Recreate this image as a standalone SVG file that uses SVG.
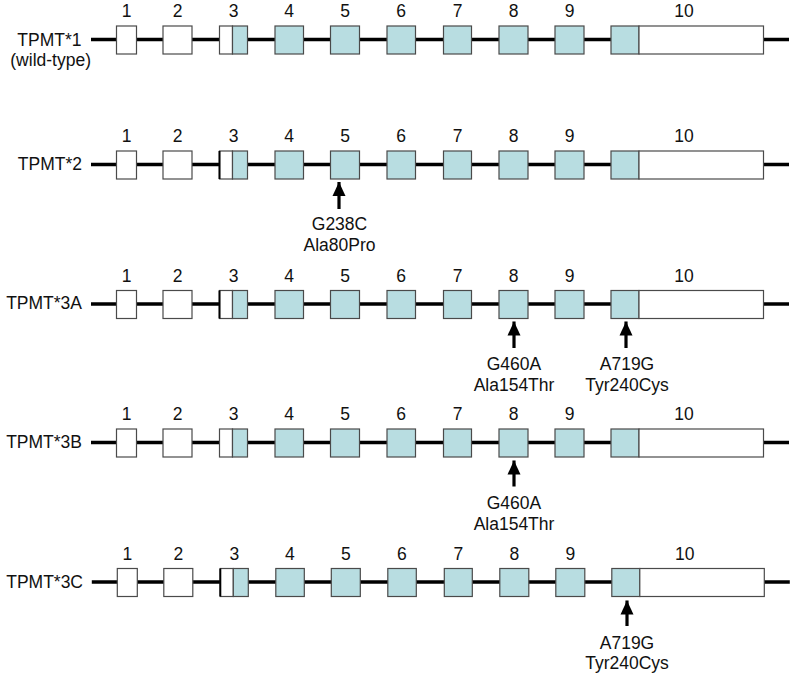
<svg xmlns="http://www.w3.org/2000/svg" xmlns:xlink="http://www.w3.org/1999/xlink" width="795" height="677" viewBox="0 0 795 677">
<style>
  text { font-family: "Liberation Sans", Arial, sans-serif; fill: #111; }
  .lbl { font-size: 17.5px; text-anchor: end; }
  .num { font-size: 17.5px; text-anchor: middle; }
  .mut { font-size: 17.5px; text-anchor: middle; }
  .intron { stroke: #000; stroke-width: 3.5; fill: none; }
  .w { fill: #fff; stroke: #4a4a4a; stroke-width: 1.2; }
  .t { fill: #b8dde1; stroke: #4a4a4a; stroke-width: 1.2; }
  .edge { stroke: #000; stroke-width: 2; }
  .shaft { stroke: #000; stroke-width: 3.2; fill: none; }
</style>
<defs>
  <marker id="ah" markerUnits="userSpaceOnUse" markerWidth="16" markerHeight="14" viewBox="0 0 16 14" refX="15" refY="7" orient="auto">
    <path d="M15,7 L1,0.5 L1,13.5 Z" fill="#000"/>
  </marker>
  <g id="gene">
    <line class="intron" x1="91" y1="13.5" x2="789" y2="13.5"/>
    <rect class="w" x="116.5" y="0" width="20" height="28"/>
    <rect class="w" x="163" y="0" width="29" height="28"/>
    <rect class="w" x="219.5" y="0" width="13" height="28"/>
    <rect class="t" x="232.5" y="0" width="15" height="28"/>
    <rect class="t" x="275" y="0" width="28.5" height="28"/>
    <rect class="t" x="330.5" y="0" width="29" height="28"/>
    <rect class="t" x="387" y="0" width="28.5" height="28"/>
    <rect class="t" x="443.5" y="0" width="28" height="28"/>
    <rect class="t" x="499" y="0" width="29" height="28"/>
    <rect class="t" x="555" y="0" width="29" height="28"/>
    <rect class="t" x="611" y="0" width="28" height="28"/>
    <rect class="w" x="639" y="0" width="124.5" height="28"/>
    <text class="num" x="126.5" y="-9">1</text>
    <text class="num" x="177.5" y="-9">2</text>
    <text class="num" x="233.5" y="-9">3</text>
    <text class="num" x="289" y="-9">4</text>
    <text class="num" x="345" y="-9">5</text>
    <text class="num" x="401" y="-9">6</text>
    <text class="num" x="457.5" y="-9">7</text>
    <text class="num" x="513.5" y="-9">8</text>
    <text class="num" x="569.5" y="-9">9</text>
    <text class="num" x="684" y="-9">10</text>
  </g>
</defs>

<g id="tpmt1">
  <use xlink:href="#gene" href="#gene" transform="translate(0,26)"/>
  <text class="lbl" x="81.5" y="45.5">TPMT*1</text>
  <text class="lbl" x="91" y="65.5">(wild-type)</text>
</g>

<g id="tpmt2">
  <use xlink:href="#gene" href="#gene" transform="translate(0,151)"/>
  <line class="edge" x1="219.5" y1="151" x2="219.5" y2="179"/>
  <text class="lbl" x="82" y="170">TPMT*2</text>
</g>

<g id="tpmt3a">
  <use xlink:href="#gene" href="#gene" transform="translate(0,290.5)"/>
  <line class="edge" x1="219.5" y1="290.5" x2="219.5" y2="318.5"/>
  <text class="lbl" x="82" y="309">TPMT*3A</text>
</g>

<g id="tpmt3b">
  <use xlink:href="#gene" href="#gene" transform="translate(0,429)"/>
  <text class="lbl" x="82" y="448">TPMT*3B</text>
</g>

<g id="tpmt3c">
  <use xlink:href="#gene" href="#gene" transform="translate(0.8,568.5)"/>
  <line class="edge" x1="220.3" y1="568.5" x2="220.3" y2="596.5"/>
  <text class="lbl" x="83" y="588">TPMT*3C</text>
</g>

<g id="connectors">
  <line class="shaft" x1="339" y1="209" x2="339" y2="182" marker-end="url(#ah)"/>
  <line class="shaft" x1="514" y1="348" x2="514" y2="321.5" marker-end="url(#ah)"/>
  <line class="shaft" x1="626" y1="348" x2="626" y2="321.5" marker-end="url(#ah)"/>
  <line class="shaft" x1="514" y1="486.5" x2="514" y2="460.5" marker-end="url(#ah)"/>
  <line class="shaft" x1="627" y1="626" x2="627" y2="600.5" marker-end="url(#ah)"/>
</g>

<g id="mutations">
  <text class="mut" x="339.5" y="230">G238C</text>
  <text class="mut" x="339.5" y="251">Ala80Pro</text>
  <text class="mut" x="514" y="369.5">G460A</text>
  <text class="mut" x="514" y="390.5">Ala154Thr</text>
  <text class="mut" x="627" y="369.5">A719G</text>
  <text class="mut" x="627" y="390.5">Tyr240Cys</text>
  <text class="mut" x="514" y="509">G460A</text>
  <text class="mut" x="514" y="529.5">Ala154Thr</text>
  <text class="mut" x="627" y="648.5">A719G</text>
  <text class="mut" x="627" y="668.5">Tyr240Cys</text>
</g>
</svg>
